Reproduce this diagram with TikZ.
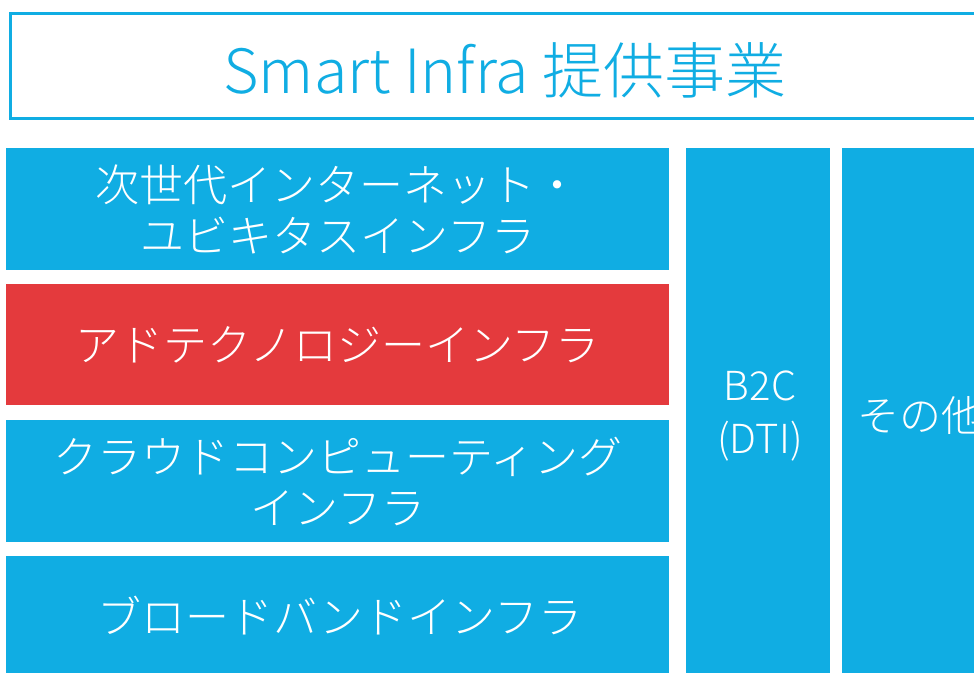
\documentclass[tikz,border=0pt]{standalone}
\usepackage{fontspec}
\setmainfont{Noto Sans CJK JP Light}
\definecolor{sblue}{RGB}{16,173,227}
\definecolor{sred}{RGB}{228,58,61}
\tikzset{
  blk/.style={fill=sblue, draw=none, inner sep=0pt, text=white, align=center,
    font=\fontsize{44}{51}\selectfont},
  redblk/.style={blk, fill=sred},
  lbl/.style={text=white, inner sep=0pt, align=center, font=\fontsize{44}{51}\selectfont}
}
\begin{document}
\begin{tikzpicture}[x=1pt,y=-1pt]
\useasboundingbox (0,0) rectangle (974,672);
\clip (0,0) rectangle (974,672);
\fill[white] (0,0) rectangle (974,672);
\node[draw=sblue, line width=3pt, inner sep=0pt, minimum width=1000pt, minimum height=105pt,
  anchor=north west] (title) at (8.5,12) {};
\node[text=sblue, font=\fontsize{61}{63}\selectfont, inner sep=0pt] (titletext) at (505,70) {Smart Infra 提供事業};
\node[blk, minimum width=663pt, minimum height=122pt, anchor=north west] (r1) at (6,148)
  {次世代インターネット・\\ユビキタスインフラ};
\node[redblk, minimum width=663pt, minimum height=121pt, anchor=north west] (r2) at (6,284)
  {アドテクノロジーインフラ};
\node[blk, minimum width=663pt, minimum height=122pt, anchor=north west] (r3) at (6,420)
  {クラウドコンピューティング\\インフラ};
\node[blk, minimum width=663pt, minimum height=130pt, anchor=north west] (r4) at (6,556) {};
\node[lbl] (r4t) at (340,616) {ブロードバンドインフラ};
\node[blk, minimum width=144pt, minimum height=540pt, anchor=north west] (b2c) at (686,148) {};
\node[lbl, font=\fontsize{40}{53}\selectfont] (b2ct) at (760,416) {B2C\\(DTI)};
\node[blk, minimum width=170pt, minimum height=540pt, anchor=north west] (other) at (842,148) {};
\node[lbl, font=\fontsize{42}{50}\selectfont, anchor=west] (othert) at (857,415) {その他};
\end{tikzpicture}
\end{document}
